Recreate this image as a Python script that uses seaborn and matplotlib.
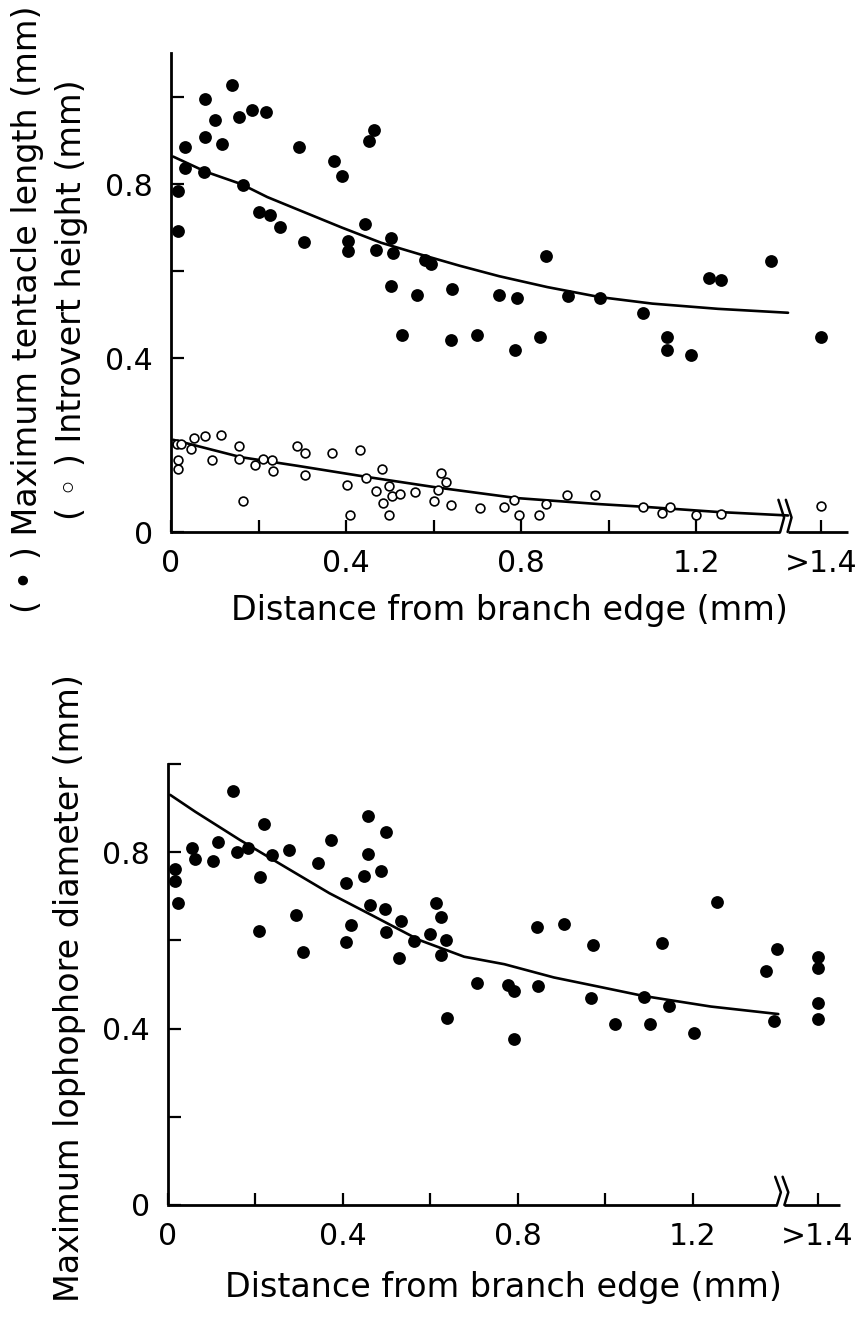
import matplotlib
matplotlib.use("Agg")
import matplotlib.pyplot as plt
import seaborn as sns

# ---------------- top panel: tentacle length (filled) / introvert height (open)
tent_x = [0.015, 0.015, 0.033, 0.033, 0.077, 0.077, 0.075, 0.100, 0.116, 0.139,
          0.155, 0.164, 0.186, 0.217, 0.200, 0.227, 0.250, 0.293, 0.305, 0.372,
          0.391, 0.405, 0.404, 0.444, 0.452, 0.465, 0.469, 0.502, 0.507, 0.502,
          0.527, 0.563, 0.580, 0.595, 0.643, 0.640, 0.699, 0.749, 0.791, 0.785,
          0.844, 0.857, 0.908, 0.980, 1.079, 1.134, 1.134, 1.188, 1.229, 1.257,
          1.371]
tent_y = [0.785, 0.692, 0.885, 0.837, 0.996, 0.908, 0.827, 0.948, 0.891, 1.027,
          0.955, 0.798, 0.971, 0.966, 0.735, 0.728, 0.702, 0.885, 0.667, 0.854,
          0.818, 0.669, 0.645, 0.709, 0.898, 0.923, 0.648, 0.675, 0.642, 0.565,
          0.452, 0.544, 0.625, 0.615, 0.558, 0.441, 0.452, 0.544, 0.537, 0.419,
          0.449, 0.634, 0.542, 0.538, 0.504, 0.449, 0.419, 0.408, 0.585, 0.579,
          0.622]
tent_far_y = [0.449]  # ">1.4" group

intro_x = [0.013, 0.023, 0.015, 0.015, 0.046, 0.052, 0.078, 0.093, 0.114, 0.156,
           0.155, 0.164, 0.191, 0.210, 0.231, 0.232, 0.289, 0.307, 0.307, 0.368,
           0.431, 0.402, 0.409, 0.445, 0.468, 0.483, 0.484, 0.499, 0.504, 0.499,
           0.524, 0.558, 0.601, 0.610, 0.618, 0.628, 0.640, 0.707, 0.762, 0.784,
           0.796, 0.842, 0.858, 0.905, 0.969, 1.079, 1.122, 1.140, 1.199, 1.257]
intro_y = [0.202, 0.202, 0.165, 0.144, 0.191, 0.217, 0.221, 0.166, 0.223, 0.198,
           0.167, 0.072, 0.155, 0.167, 0.165, 0.140, 0.198, 0.182, 0.132, 0.181,
           0.188, 0.108, 0.040, 0.123, 0.095, 0.145, 0.066, 0.105, 0.083, 0.038,
           0.088, 0.092, 0.072, 0.096, 0.136, 0.114, 0.062, 0.055, 0.058, 0.073,
           0.040, 0.038, 0.064, 0.086, 0.086, 0.058, 0.043, 0.058, 0.040, 0.041]
intro_far_y = [0.060]

# fitted curves
tent_fit_x = [0.005, 0.08, 0.16, 0.22, 0.30, 0.39, 0.48, 0.57, 0.66, 0.75,
              0.86, 0.98, 1.10, 1.25, 1.41]
tent_fit_y = [0.863, 0.828, 0.800, 0.770, 0.737, 0.700, 0.665, 0.638, 0.612, 0.588,
              0.563, 0.540, 0.525, 0.513, 0.504]
intro_fit_x = [0.005, 0.16, 0.29, 0.445, 0.61, 0.79, 0.98, 1.08, 1.25, 1.41]
intro_fit_y = [0.212, 0.172, 0.152, 0.127, 0.102, 0.078, 0.064, 0.058, 0.046, 0.038]

# ---------------- bottom panel: lophophore diameter
loph_x = [0.017, 0.017, 0.024, 0.054, 0.062, 0.103, 0.114, 0.149, 0.157, 0.183,
          0.219, 0.211, 0.209, 0.238, 0.276, 0.292, 0.308, 0.343, 0.373, 0.408,
          0.406, 0.418, 0.449, 0.458, 0.458, 0.462, 0.488, 0.499, 0.495, 0.498,
          0.532, 0.529, 0.562, 0.599, 0.612, 0.625, 0.624, 0.636, 0.638, 0.707,
          0.777, 0.792, 0.790, 0.843, 0.846, 0.905, 0.971, 0.966, 1.022, 1.087,
          1.102, 1.129, 1.146, 1.202, 1.254, 1.367, 1.393, 1.386]
loph_y = [0.761, 0.735, 0.684, 0.810, 0.785, 0.779, 0.822, 0.939, 0.800, 0.810,
          0.864, 0.743, 0.622, 0.794, 0.805, 0.658, 0.573, 0.775, 0.828, 0.731,
          0.596, 0.635, 0.745, 0.881, 0.797, 0.680, 0.758, 0.846, 0.671, 0.620,
          0.643, 0.560, 0.598, 0.614, 0.684, 0.653, 0.568, 0.602, 0.423, 0.503,
          0.500, 0.485, 0.376, 0.630, 0.497, 0.637, 0.590, 0.470, 0.410, 0.472,
          0.410, 0.595, 0.452, 0.389, 0.686, 0.530, 0.580, 0.418]
loph_far_y = [0.562, 0.538, 0.457, 0.421]

loph_fit_x = [0.005, 0.062, 0.164, 0.267, 0.369, 0.472, 0.574, 0.677, 0.769, 0.882,
              0.985, 1.087, 1.241, 1.395]
loph_fit_y = [0.930, 0.892, 0.828, 0.767, 0.707, 0.654, 0.601, 0.563, 0.546, 0.516,
              0.495, 0.474, 0.450, 0.433]

x_ticks = [0, 0.2, 0.4, 0.6, 0.8, 1.0, 1.2]
x_ticklabels = ["0", "", "0.4", "", "0.8", "", "1.2"]
far_label = ">1.4"
y_ticks = [0, 0.2, 0.4, 0.6, 0.8, 1.0]
y_ticklabels = ["0", "", "0.4", "", "0.8", ""]

FAR_X = 1.485      # where the ">1.4" column sits
BREAK_L, BREAK_R = 1.392, 1.409

sns.set_style("ticks")
plt.rcParams["font.family"] = ["DejaVu Sans"]
plt.rcParams["text.color"] = "black"
plt.rcParams["axes.labelcolor"] = "black"
plt.rcParams["xtick.color"] = "black"
plt.rcParams["ytick.color"] = "black"
plt.rcParams["axes.edgecolor"] = "black"


def draw_axes(ax, xmax, ymax, brk_h):
    for s in ["top", "right", "bottom"]:
        ax.spines[s].set_visible(False)
    ax.spines["left"].set_linewidth(2.0)
    ax.spines["left"].set_color("black")
    ax.set_xlim(0, xmax)
    ax.set_ylim(0, ymax)
    # broken x axis line
    kw = dict(color="black", lw=2.0, clip_on=False, solid_capstyle="butt", zorder=4)
    ax.plot([0, BREAK_L], [0, 0], **kw)
    ax.plot([BREAK_R, xmax], [0, 0], **kw)
    for x0 in (BREAK_L, BREAK_R):
        ax.plot([x0 - 0.004, x0 + 0.009, x0], [brk_h, brk_h * 0.45, 0],
                color="black", lw=1.8, clip_on=False, zorder=4)
    ax.set_xticks(x_ticks + [FAR_X])
    ax.set_xticklabels(x_ticklabels + [far_label])
    ax.set_yticks(y_ticks)
    ax.set_yticklabels(y_ticklabels)
    ax.tick_params(axis="both", direction="in", length=9, width=1.6,
                   labelsize=21.5, color="black", labelcolor="black")
    ax.tick_params(axis="x", pad=12)
    ax.tick_params(axis="y", pad=13)


fig = plt.figure(figsize=(8.58, 13.26), dpi=100)
ax1 = fig.add_axes([171 / 858, 1 - 532 / 1326, 677 / 858, 478.5 / 1326])
ax2 = fig.add_axes([168 / 858, 1 - 1205 / 1326, 671.5 / 858, 441 / 1326])

# ---- top
sns.lineplot(x=tent_fit_x, y=tent_fit_y, ax=ax1, color="black", linewidth=1.9,
             estimator=None, sort=False)
sns.lineplot(x=intro_fit_x, y=intro_fit_y, ax=ax1, color="black", linewidth=1.9,
             estimator=None, sort=False)
sns.scatterplot(x=tent_x + [FAR_X] * len(tent_far_y), y=tent_y + tent_far_y, ax=ax1,
                color="black", s=85, linewidth=0, zorder=3, clip_on=False)
sns.scatterplot(x=intro_x + [FAR_X] * len(intro_far_y), y=intro_y + intro_far_y, ax=ax1,
                color="white", edgecolor="black", s=40, linewidth=1.2, zorder=3,
                clip_on=False)
draw_axes(ax1, 1.547, 1.10, 0.074)
ax1.set_xlabel("Distance from branch edge (mm)", fontsize=24, labelpad=12,
               color="black")
ax1.set_ylabel("")

fig.text(28 / 858, 1 - 309 / 1326, "( \u2022 ) Maximum tentacle length (mm)",
         rotation=90, fontsize=24, ha="center", va="center", color="black")
fig.text(72 / 858, 1 - 300 / 1326, "( \u25e6 ) Introvert height (mm)",
         rotation=90, fontsize=24, ha="center", va="center", color="black")

# ---- bottom
sns.lineplot(x=loph_fit_x, y=loph_fit_y, ax=ax2, color="black", linewidth=1.9,
             estimator=None, sort=False)
sns.scatterplot(x=loph_x + [FAR_X] * len(loph_far_y), y=loph_y + loph_far_y, ax=ax2,
                color="black", s=85, linewidth=0, zorder=3, clip_on=False)
draw_axes(ax2, 1.535, 1.0, 0.064)
ax2.set_xlabel("Distance from branch edge (mm)", fontsize=24, labelpad=15,
               color="black")
ax2.set_ylabel("")
fig.text(70 / 858, 1 - 988 / 1326, "Maximum lophophore diameter (mm)",
         rotation=90, fontsize=24, ha="center", va="center", color="black")

fig.savefig("out.png", dpi=100)
